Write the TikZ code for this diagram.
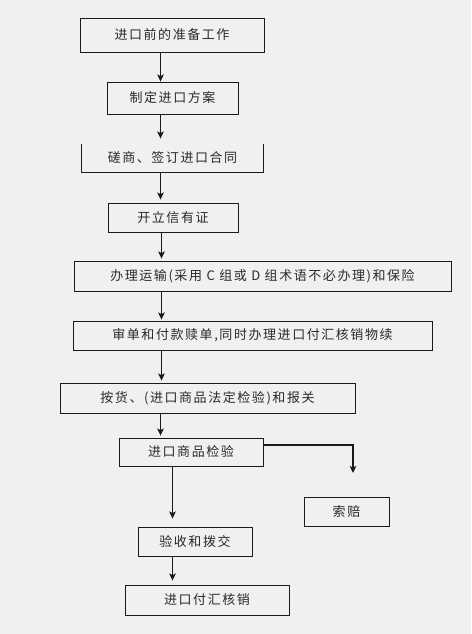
\documentclass[tikz,border=0pt]{standalone}
\usepackage{fontspec}
\setmainfont[LetterSpace=12]{Noto Sans CJK SC}
\usepackage{tikz}
\usetikzlibrary{arrows.meta,positioning}
\definecolor{pagebg}{HTML}{F0F0F0}
\definecolor{inkx}{HTML}{1A1A1A}
\definecolor{textx}{HTML}{2A2A2A}
\tikzset{
  ar/.style={-{Stealth[length=7pt,width=6.5pt,inset=1.5pt]},line width=1.1pt,inkx},
  box/.style={draw=inkx,line width=0.9pt,inner sep=0pt,align=center,text=textx,font=\fontsize{13pt}{15pt}\selectfont},
  edge/.style={line width=0.9pt,inkx}
}
\begin{document}
\begin{tikzpicture}[x=1pt,y=-1pt]
\fill[pagebg] (0,0) rectangle (471,634);
\useasboundingbox (0,0) rectangle (471,634);
% main column
\node[box,minimum width=184pt,minimum height=34pt] (prep) at (172,35) {进口前的准备工作};
\node[box,minimum width=131pt,minimum height=32pt] (plan) at (172.5,98) {制定进口方案};
\node[box,draw=none,minimum width=181pt,minimum height=28pt] (nego) at (172.5,158) {磋商、签订进口合同};
\draw[edge] (nego.north west) -- (nego.south west) -- (nego.south east) -- (nego.north east);
\node[box,minimum width=130pt,minimum height=29pt] (lc) at (173,217.5) {开立信有证};
\node[box,minimum width=377pt,minimum height=30pt] (ship) at (262.5,276) {办理运输(采用 C 组或 D 组术语不必办理)和保险};
\node[box,minimum width=359pt,minimum height=29pt] (docs) at (252.5,335.5) {审单和付款赎单,同时办理进口付汇核销物续};
\node[box,minimum width=295pt,minimum height=30pt] (cust) at (207.5,398) {按货、(进口商品法定检验)和报关};
\node[box,minimum width=144pt,minimum height=28pt] (insp) at (191,452) {进口商品检验};
\node[box,minimum width=85pt,minimum height=29pt] (claim) at (346.5,511.5) {索赔};
\node[box,minimum width=114pt,minimum height=29pt] (accept) at (195,541.5) {验收和拨交};
\node[box,minimum width=164pt,minimum height=30pt] (verif) at (207,600) {进口付汇核销};
% connector columns
\coordinate (ca) at (160.5,0);
\coordinate (cb) at (161.5,0);
\coordinate (cc) at (172.5,0);
\coordinate (cd) at (353,473);
% arrows
\draw[ar] (prep.south -| ca) -- (plan.north -| ca);
\draw[ar,shorten >=5pt] (plan.south -| ca) -- (nego.north -| ca);
\draw[ar,shorten >=3pt] (nego.south -| ca) -- (lc.north -| ca);
\draw[ar,shorten >=2pt] (lc.south -| cb) -- (ship.north -| cb);
\draw[ar,shorten >=1pt] (ship.south -| cb) -- (docs.north -| cb);
\draw[ar,shorten >=2pt] (docs.south -| cb) -- (cust.north -| cb);
\draw[ar,shorten >=2pt] (cust.south -| ca) -- (insp.north -| ca);
\draw[ar] (insp.east |- 0,445) -| (cd);
\draw[ar,shorten >=8pt] (insp.south -| cc) -- (accept.north -| cc);
\draw[ar,shorten >=4pt] (accept.south -| cc) -- (verif.north -| cc);
\end{tikzpicture}
\end{document}
